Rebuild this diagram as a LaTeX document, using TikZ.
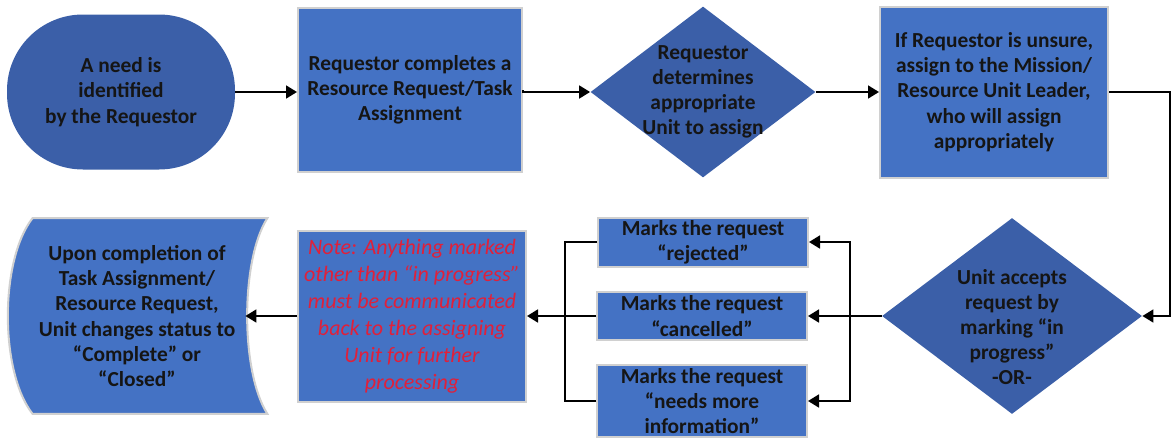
\documentclass[tikz,border=0pt]{standalone}
\usepackage{fontspec}
\setmainfont{Carlito}
\usepackage{tikz}
\usetikzlibrary{arrows.meta,positioning,shapes.geometric,calc,backgrounds}
\definecolor{darkblue}{HTML}{3B5FA8}
\definecolor{lightblue}{HTML}{4472C4}
\definecolor{edgegray}{HTML}{D0D0D0}
\definecolor{notered}{HTML}{E0203A}
\definecolor{inkblack}{HTML}{151515}
\begin{document}
\begin{tikzpicture}[
    x=0.5pt,y=-0.5pt,
    font=\bfseries\fontsize{10.7}{12.6}\selectfont,
    text=inkblack,
    term/.style={rectangle,rounded corners=38pt,fill=darkblue,minimum width=114pt,minimum height=77.5pt,align=center},
    box/.style={draw=edgegray,line width=1pt,fill=lightblue,align=center,inner sep=0pt},
    dia/.style={diamond,fill=darkblue,inner sep=0pt},
    txt/.style={align=center,inner sep=0pt},
    arr/.style={-{Triangle[length=5.5pt,width=6.5pt]},line width=0.9pt},
    line/.style={line width=0.9pt}
]
\useasboundingbox (0,0) rectangle (1172,439);
% top row
\node[term] (need) at (121,92) {A need is\\identified\\by the Requestor};
\node[box,minimum width=112pt,minimum height=82pt] (request) at (410,90) {Requestor completes a\\Resource Request/Task\\Assignment};
\node[dia,minimum width=112.5pt,minimum height=85.5pt] (determine) at (703,92) {};
\node[txt] (determine-t) at (determine) {Requestor\\determines\\appropriate\\Unit to assign};
\node[box,minimum width=114pt,minimum height=85.5pt] (unsure) at (994,92) {If Requestor is unsure,\\assign to the Mission/\\Resource Unit Leader,\\who will assign\\appropriately};
% bottom row
\node[dia,minimum width=130pt,minimum height=98pt] (accept) at (1012,316) {};
\node[txt] (accept-t) at (1012,327) {Unit accepts\\request by\\marking “in\\progress”\\-OR-};
\node[box,minimum width=105pt,minimum height=24.5pt] (rejected) at (703,242) {Marks the request\\“rejected”};
\node[box,minimum width=105pt,minimum height=24pt] (cancelled) at (702,316) {Marks the request\\“cancelled”};
\node[box,minimum width=105pt,minimum height=36pt] (needmore) at (702,401) {Marks the request\\“needs more\\information”};
\node[box,minimum width=114pt,minimum height=85.5pt,text=notered,font=\mdseries\itshape\fontsize{11}{13.5}\selectfont] (note) at (412,316) {Note: Anything marked\\other than “in progress”\\must be communicated\\back to the assigning\\Unit for further\\processing};
\node[txt,minimum width=130pt,minimum height=97.5pt] (complete) at (137,316) {Upon completion of\\Task Assignment/\\Resource Request,\\Unit changes status to\\“Complete” or\\“Closed”};
\begin{scope}[on background layer]
\fill[lightblue,draw=edgegray,line width=1pt] ($(complete.north west)+(26,0)$) -- (complete.north east)
    .. controls ($(complete.north east)+(-27,42)$) and ($(complete.south east)+(-27,-42)$) .. (complete.south east)
    -- ($(complete.south west)+(26,0)$)
    .. controls ($(complete.south west)+(-7,-42)$) and ($(complete.north west)+(-7,42)$) .. cycle;
\end{scope}
\coordinate (rturn) at (1170,92);
\coordinate (rsplit) at (850,316);
\coordinate (lsplit) at (565,316);
\coordinate (cin) at ($(complete.east)+(-22,0)$);
\draw[arr] (need.east) -- (need.east -| request.west);
\draw[arr] (request.east) -- (request.east |- determine) -- (determine.west);
\draw[arr] (determine) -- (unsure);
\draw[arr] (unsure.east) -- (rturn) |- (accept.east);
\draw[line] (accept.west) -- (rsplit);
\draw[arr] (rsplit) |- (rejected.east);
\draw[arr] (rsplit) -- (cancelled.east);
\draw[arr] (rsplit) |- (needmore.east);
\draw[line] (rejected.west) -| (lsplit);
\draw[line] (needmore.west) -| (lsplit);
\draw[arr] (cancelled.west) -- (note.east);
\draw[arr] (note.west) -- (cin);
\end{tikzpicture}
\end{document}
